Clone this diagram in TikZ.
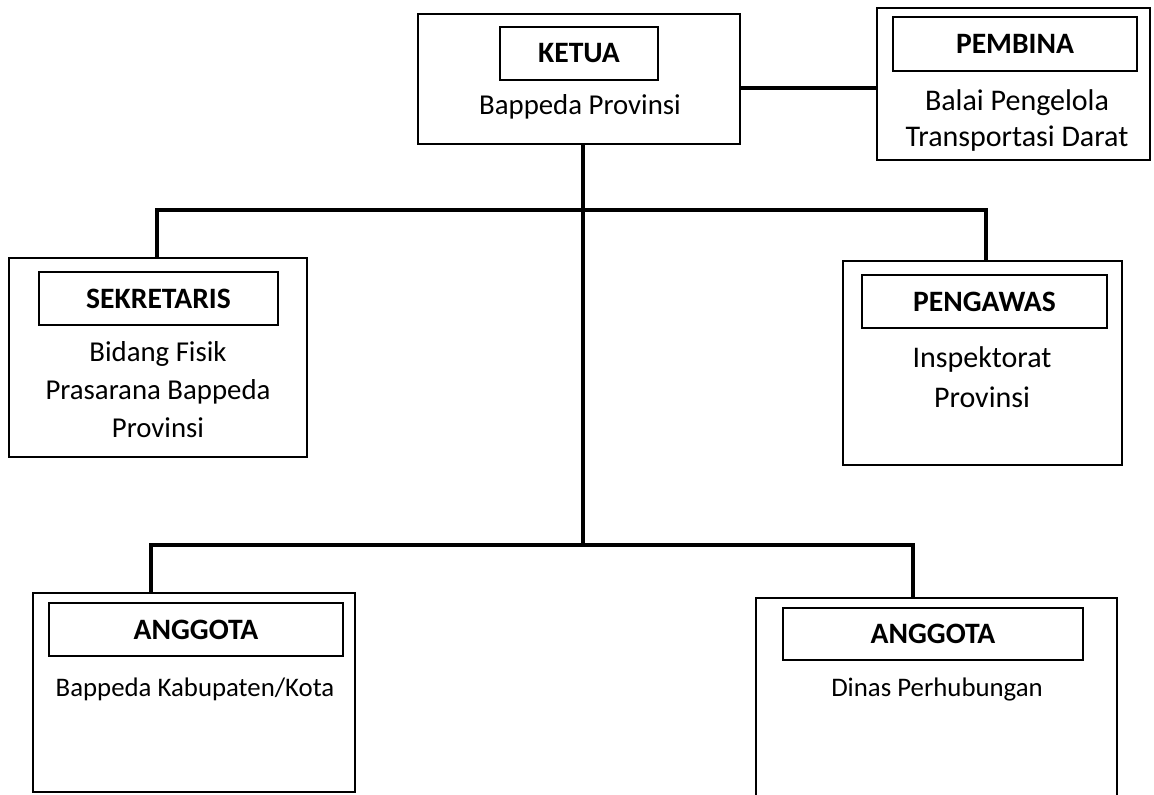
\documentclass[tikz,border=0pt]{standalone}
\usepackage{fontspec}
\setmainfont{Carlito}
\usetikzlibrary{positioning}
\tikzset{
  unitbox/.style={draw,line width=1pt,inner sep=0pt},
  titlebox/.style={draw,line width=1pt,inner sep=0pt,font=\fontsize{14.8}{18.5}\selectfont\bfseries},
  bodytext/.style={align=center,inner sep=0pt,font=\fontsize{14.4}{18.5}\selectfont},
  widetext/.style={bodytext,font=\fontsize{15}{19.5}\selectfont},
  smalltext/.style={bodytext,font=\fontsize{13.4}{18}\selectfont},
  conn/.style={line width=2.3pt}
}
\begin{document}
\begin{tikzpicture}[x=0.5pt,y=-0.5pt]
  \useasboundingbox (0,0) rectangle (1154,795);
  % ketua
  \node[unitbox,minimum width=161pt,minimum height=65pt] (ketua) at (579,79) {};
  \node[titlebox,minimum width=79pt,minimum height=26.5pt] (ketuaT) at (579,53.5) {KETUA};
  \node[bodytext] (ketuaB) at (580,107) {Bappeda Provinsi};
  % pembina
  \node[unitbox,minimum width=136.5pt,minimum height=76pt] (pembina) at (1013.5,84) {};
  \node[titlebox,minimum width=122pt,minimum height=27pt] (pembinaT) at (1015,44) {PEMBINA};
  \node[widetext,font=\fontsize{15}{18}\selectfont] (pembinaB) at (1017,121) {Balai Pengelola\\Transportasi Darat};
  % sekretaris
  \node[unitbox,minimum width=149pt,minimum height=99.5pt] (sekretaris) at (158,357.5) {};
  \node[titlebox,minimum width=119.5pt,minimum height=26.5pt] (sekretarisT) at (158.5,298.5) {SEKRETARIS};
  \node[bodytext,font=\fontsize{14.4}{19}\selectfont] (sekretarisB) at (158,390) {Bidang Fisik\\Prasarana Bappeda\\Provinsi};
  % pengawas
  \node[unitbox,minimum width=139.5pt,minimum height=102pt] (pengawas) at (982.5,363) {};
  \node[titlebox,minimum width=122.5pt,minimum height=26.5pt] (pengawasT) at (984.5,301.5) {PENGAWAS};
  \node[widetext,font=\fontsize{15}{20}\selectfont] (pengawasB) at (982,377) {Inspektorat\\Provinsi};
  % anggota
  \node[unitbox,minimum width=161pt,minimum height=99.5pt] (anggotaA) at (194,692.5) {};
  \node[titlebox,minimum width=147pt,minimum height=26.5pt] (anggotaAT) at (196,629.5) {ANGGOTA};
  \node[smalltext] (anggotaAB) at (195,689) {Bappeda Kabupaten/Kota};
  \node[unitbox,minimum width=180.5pt,minimum height=99pt] (anggotaB) at (936.5,697) {};
  \node[titlebox,minimum width=150pt,minimum height=26pt] (anggotaBT) at (933,634) {ANGGOTA};
  \node[smalltext] (anggotaBB) at (937,689) {Dinas Perhubungan};
  % connectors
  \coordinate (hubTop) at (583,210);
  \coordinate (hubLow) at (583,545);
  \coordinate (dropS) at (157,210);
  \coordinate (dropP) at (986,210);
  \coordinate (dropA) at (151,545);
  \coordinate (dropB) at (913,545);
  \draw[conn] ([yshift=-4.5pt]ketua.east) -- ([yshift=-4.5pt]ketua.east -| pembina.west);
  \draw[conn] (hubTop |- ketua.south) -- (hubLow);
  \draw[conn] (dropS |- sekretaris.north) -- (dropS) -- (dropP) -- (dropP |- pengawas.north);
  \draw[conn] (dropA |- anggotaA.north) -- (dropA) -- (dropB) -- (dropB |- anggotaB.north);
\end{tikzpicture}
\end{document}
